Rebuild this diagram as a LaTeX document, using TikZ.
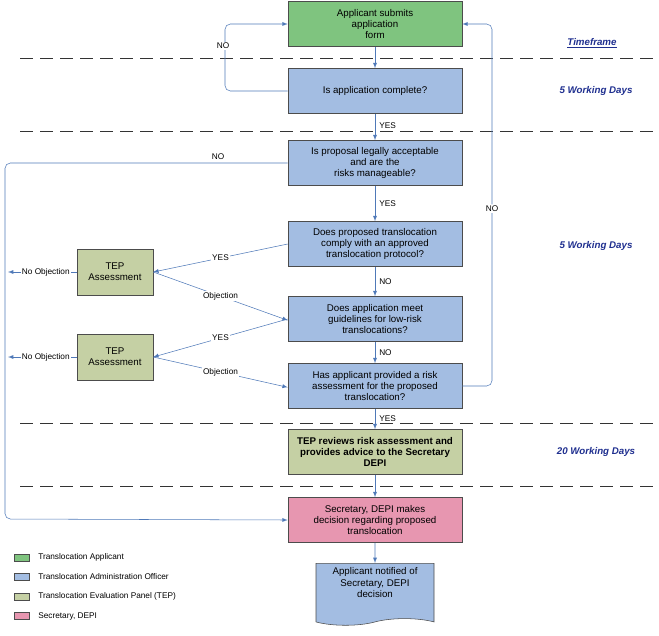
\documentclass[tikz,border=0pt]{standalone}
\usepackage{fontspec}
\setmainfont{Liberation Sans}
\usetikzlibrary{shapes.symbols}
\definecolor{appgreen}{HTML}{7FC47F}
\definecolor{offblue}{HTML}{A3BDE2}
\definecolor{teptan}{HTML}{C5D0A4}
\definecolor{secpink}{HTML}{E796B0}
\definecolor{edgeblue}{HTML}{4F79B8}
\definecolor{dayblue}{HTML}{1F2F8F}
\begin{document}
\begin{tikzpicture}[x=0.75pt,y=-0.75pt,
  box/.style={draw=black!70,minimum width=174*0.75pt,minimum height=45*0.75pt,align=center,inner sep=1pt,font=\fontsize{7.3}{8.5}\selectfont},
  tep/.style={box,fill=teptan,minimum width=76*0.75pt,minimum height=46*0.75pt},
  arr/.style={draw=edgeblue,-latex},
  lbl/.style={font=\fontsize{6.2}{7}\selectfont,fill=white,inner sep=1pt},
  sep/.style={dashed,dash pattern=on 10pt off 5pt,black!80},
  days/.style={font=\bfseries\itshape\fontsize{7.3}{8}\selectfont,text=dayblue},
  key/.style={draw=black!70,minimum width=11pt,minimum height=5pt,inner sep=0pt}]
\useasboundingbox (0,0) rectangle (659,635);

% Zeitleisten
\foreach \y in {58,131,423,486}
  \draw[sep] (20,\y) -- (655,\y);
\node[days] at (592,43) {\underline{Timeframe}};
\node[days] at (596,91) {5 Working Days};
\node[days] at (596,246) {5 Working Days};
\node[days] at (596,452) {20 Working Days};

% Kaesten
\node[box,fill=appgreen] (submit) at (375,24) {Applicant submits\\application\\form};
\node[box,fill=offblue] (complete) at (375,91) {Is application complete?};
\node[box,fill=offblue] (legal) at (375,163) {Is proposal legally acceptable\\and are the\\risks manageable?};
\node[box,fill=offblue] (comply) at (375,244) {Does proposed translocation\\comply with an approved\\translocation protocol?};
\node[box,fill=offblue] (guide) at (375,319) {Does application meet\\guidelines for low-risk\\translocations?};
\node[box,fill=offblue] (riskass) at (375,386) {Has applicant provided a risk\\assessment for the proposed\\translocation?};
\node[box,fill=teptan] (review) at (375,452) {\bfseries TEP reviews risk assessment and\\\bfseries provides advice to the Secretary\\\bfseries DEPI};
\node[box,fill=secpink] (decide) at (375,520) {Secretary, DEPI makes\\decision regarding proposed\\translocation};
\node[tape,tape bend top=none,draw=black!70,fill=offblue,minimum width=118*0.75pt,minimum height=62*0.75pt,align=center,
  font=\fontsize{7.3}{8.5}\selectfont,anchor=north] (notify) at (375,563) {Applicant notified of\\Secretary, DEPI\\decision\\[4pt]};
\node[tep] (tepa) at (115,272) {TEP\\Assessment};
\node[tep] (tepb) at (115,357) {TEP\\Assessment};

% Verbindungen
\coordinate (loopa) at (225,91);
\coordinate (loopb) at (225,24);
\coordinate (farl) at (5,163);
\coordinate (farb) at (5,519);
\coordinate (nob) at (8,272);
\coordinate (noc) at (8,357);
\coordinate (backa) at (492,386);
\coordinate (backb) at (492,24);
\draw[arr] (submit) -- (complete);
\draw[arr,rounded corners=4pt] (complete.west) -- (loopa) -- (loopb) -- (submit.west);
\node[lbl] at (223,46) {NO};
\draw[arr] (complete) -- node[lbl,right=2pt,pos=0.45] {YES} (legal);
\draw[arr,rounded corners=4pt] (legal.west) -- (farl) -- (farb) -- (decide.west);
\node[lbl] at (218,157) {NO};
\draw[arr] (legal) -- node[lbl,right=2pt] {YES} (comply);
\draw[arr] (comply.west) -- node[lbl,pos=0.5] {YES} (tepa.east);
\draw[arr] (tepa.east) -- node[lbl,pos=0.5] {Objection} ([yshift=-1pt]guide.west);
\draw[arr] (tepa.west) -- node[lbl,pos=0.45] {No Objection} (nob);
\draw[arr] (comply) -- node[lbl,right=2pt] {NO} (guide);
\draw[arr] (guide.west) -- node[lbl,pos=0.5] {YES} (tepb.east);
\draw[arr] (tepb.east) -- node[lbl,pos=0.5] {Objection} ([yshift=-1pt]riskass.west);
\draw[arr] (tepb.west) -- node[lbl,pos=0.45] {No Objection} (noc);
\draw[arr] (guide) -- node[lbl,right=2pt] {NO} (riskass);
\draw[arr] (riskass) -- node[lbl,right=2pt] {YES} (review);
\draw[arr,rounded corners=4pt] (riskass.east) -- (backa) -- node[lbl,pos=0.49] {NO} (backb) -- (submit.east);
\draw[arr] (review) -- (decide);
\draw[arr] (decide) -- (notify);

% Legende
\foreach \c/\t [count=\i] in {appgreen/Translocation Applicant,offblue/Translocation Administration Officer,teptan/Translocation Evaluation Panel (TEP),secpink/{Secretary, DEPI}} {
  \node[key,fill=\c] (key\i) at (22,538+19.5*\i) {};
  \node[anchor=west,font=\fontsize{6.2}{7}\selectfont,inner sep=0pt] (keytxt\i) at (38,538+19.5*\i) {\t};
}
\end{tikzpicture}
\end{document}
